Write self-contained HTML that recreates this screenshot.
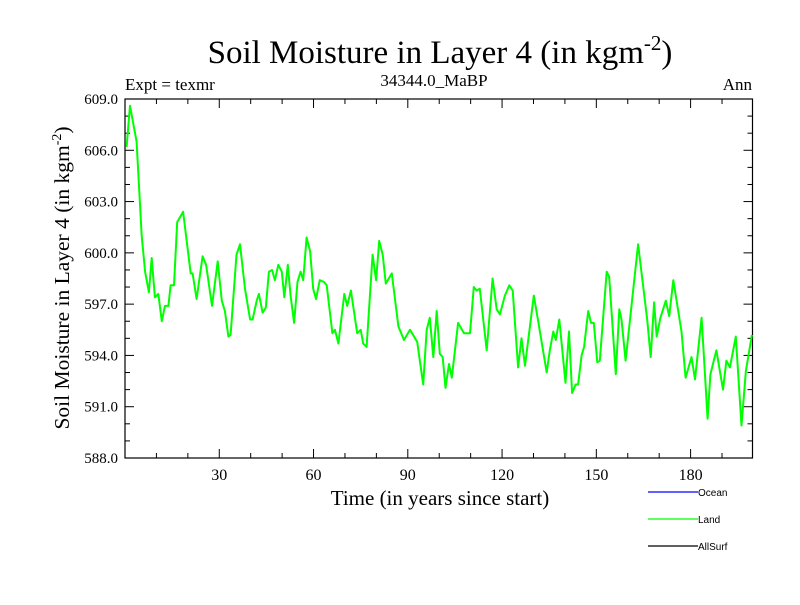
<!DOCTYPE html>
<html><head><meta charset="utf-8"><style>
body{margin:0;background:#fff;}
svg text{font-family:"Liberation Serif",serif;}
svg text.sans{font-family:"Liberation Sans",sans-serif;}
</style></head><body>
<svg id="chart" width="800" height="600" xmlns="http://www.w3.org/2000/svg">
<text x="440" y="63" font-size="33" text-anchor="middle">Soil Moisture in Layer 4 (in kgm<tspan font-size="21" dy="-13">-2</tspan><tspan dy="13">)</tspan></text>
<text x="125" y="90" font-size="17">Expt = texmr</text>
<text x="434" y="86" font-size="17" text-anchor="middle">34344.0_MaBP</text>
<text x="752" y="90" font-size="17" text-anchor="end">Ann</text>
<text transform="translate(69,278) rotate(-90)" font-size="21.5" text-anchor="middle">Soil Moisture in Layer 4 (in kgm<tspan font-size="14" dy="-8">-2</tspan><tspan dy="8">)</tspan></text>
<text x="440" y="505" font-size="21" text-anchor="middle">Time (in years since start)</text>
<g id="axes"></g>
<g id="series"></g>
<g>
<line x1="648" y1="492" x2="698" y2="492" stroke="#0000ff" stroke-width="1.3"/>
<text class="sans" x="698" y="496" font-size="10" style="font-family:'Liberation Sans',sans-serif">Ocean</text>
<line x1="648" y1="519" x2="698" y2="519" stroke="#00ff00" stroke-width="1.3"/>
<text class="sans" x="698" y="523" font-size="10" style="font-family:'Liberation Sans',sans-serif">Land</text>
<line x1="648" y1="546" x2="698" y2="546" stroke="#000" stroke-width="1.3"/>
<text class="sans" x="698" y="550" font-size="10" style="font-family:'Liberation Sans',sans-serif">AllSurf</text>
</g>
</svg>
<script>
const years=[0.5,1.6,3.7,5.3,6.4,7.6,8.5,9.5,10.6,11.7,12.7,13.8,14.5,15.6,16.6,18.5,20.9,21.5,22.8,24.7,25.8,27.7,29.5,30.8,31.8,32.9,33.6,35.5,36.6,38.2,39.8,40.6,41.9,42.6,43.8,44.8,45.8,46.8,47.7,48.8,49.9,50.7,51.8,52.7,53.8,54.9,55.9,56.7,57.8,58.9,59.9,60.8,62.0,63.3,64.2,66.0,66.8,67.9,69.8,70.7,71.9,73.9,75.0,75.8,76.9,78.8,79.9,80.9,82.0,83.0,84.9,87.0,88.8,90.7,93.0,94.9,96.0,97.0,98.1,99.2,100.2,101.1,102.0,103.1,104.0,106.0,107.9,109.8,111.0,111.9,112.9,115.1,117.0,118.3,119.3,120.9,122.3,123.4,125.1,126.2,127.3,130.1,131.5,134.2,135.2,136.3,137.1,138.2,140.2,141.3,142.3,143.4,144.2,145.3,146.1,147.4,148.3,149.2,150.3,151.1,153.3,154.1,156.2,157.3,158.0,159.3,163.3,166.2,167.3,168.4,169.2,170.4,172.1,173.2,174.5,177.1,178.4,180.3,181.4,183.5,185.4,186.3,188.2,190.3,191.4,192.5,194.4,196.2,197.6,199.5];
const landValues=[606.2,608.6,606.5,601.0,598.9,597.7,599.7,597.4,597.6,596.0,596.9,596.9,598.1,598.1,601.8,602.4,598.8,598.8,597.3,599.8,599.3,596.9,599.5,597.2,596.6,595.1,595.2,599.9,600.5,597.9,596.1,596.1,597.2,597.6,596.5,596.8,598.9,599.0,598.4,599.3,598.9,597.4,599.3,597.5,595.9,598.3,598.9,598.4,600.9,600.1,597.9,597.3,598.4,598.3,598.1,595.3,595.5,594.7,597.6,596.9,597.8,595.3,595.5,594.7,594.5,599.9,598.4,600.7,599.9,598.2,598.8,595.7,594.9,595.5,594.8,592.3,595.5,596.2,593.9,596.6,594.1,593.9,592.1,593.5,592.7,595.9,595.3,595.3,598.0,597.8,597.9,594.3,598.5,596.7,596.4,597.5,598.1,597.8,593.3,595.0,593.4,597.5,596.0,593.0,594.3,595.4,594.9,596.1,592.4,595.4,591.8,592.3,592.3,594.0,594.5,596.6,595.9,595.9,593.6,593.7,598.9,598.6,592.9,596.7,596.1,593.7,600.5,596.1,593.9,597.1,595.1,596.2,597.2,596.3,598.4,595.4,592.7,593.9,592.6,596.2,590.3,592.9,594.3,592.0,593.7,593.3,595.1,589.9,593.1,595.2];
const xTickLabels=[30,60,90,120,150,180];
const yTickLabels=["588.0","591.0","594.0","597.0","600.0","603.0","606.0","609.0"];
const X0=125,X1=752.5,Y0=458,Y1=99,XMIN=0,XMAX=199.7,YMIN=588,YMAX=609;
const xs=v=>X0+(v-XMIN)/(XMAX-XMIN)*(X1-X0);
const ys=v=>Y0-(v-YMIN)/(YMAX-YMIN)*(Y0-Y1);
const NS="http://www.w3.org/2000/svg";
const axes=document.getElementById('axes');
function mk(tag,attrs,parent){const e=document.createElementNS(NS,tag);for(const k in attrs)e.setAttribute(k,attrs[k]);parent.appendChild(e);return e;}
const frame=mk('rect',{x:X0,y:Y1,width:X1-X0,height:Y0-Y1,fill:'none',stroke:'#000','stroke-width':1.2},axes);


for(let t=10;t<XMAX;t+=10){const major=t%30===0;const L=major?9:5;
 const a=mk('line',{x1:xs(t),x2:xs(t),y1:Y0,y2:Y0-L,stroke:'#000'},axes);
 
 
 const b=mk('line',{x1:xs(t),x2:xs(t),y1:Y1,y2:Y1+L,stroke:'#000'},axes);
 
 }
xTickLabels.forEach(t=>{const e=mk('text',{x:xs(t),y:Y0+22,'font-size':16,'text-anchor':'middle'},axes);e.textContent=t;
 
 });
for(let v=YMIN+1;v<YMAX;v+=1){const major=(v-YMIN)%3===0;const L=major?9:5;
 const a=mk('line',{x1:X0,x2:X0+L,y1:ys(v),y2:ys(v),stroke:'#000'},axes);
 
 
 const b=mk('line',{x1:X1,x2:X1-L,y1:ys(v),y2:ys(v),stroke:'#000'},axes);
 
 }
yTickLabels.forEach(s=>{const e=mk('text',{x:X0-7,y:ys(parseFloat(s))+5,'font-size':15,'text-anchor':'end'},axes);e.textContent=s;
 
 });
const pts=years.map((y,i)=>xs(y).toFixed(1)+','+ys(landValues[i]).toFixed(1)).join(' ');
const line=mk('polyline',{points:pts,fill:'none',stroke:'#00ff00','stroke-width':2,'stroke-linejoin':'round'},document.getElementById('series'));


</script>
</body></html>
